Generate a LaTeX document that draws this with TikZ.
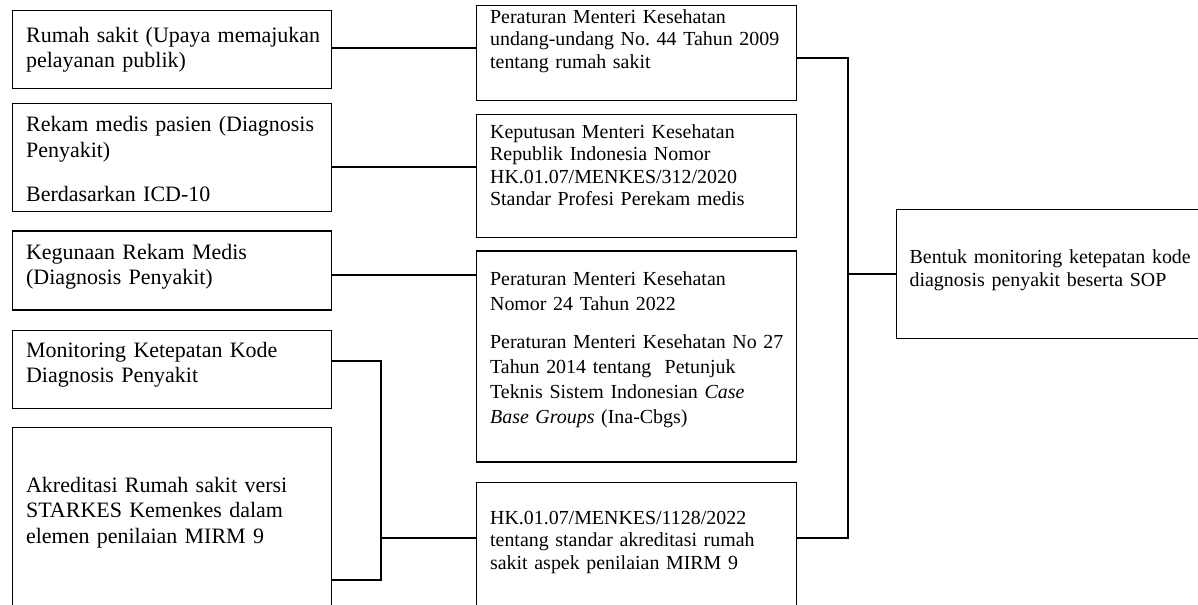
\documentclass[tikz,border=0pt]{standalone}
\usepackage{fontspec}
\setmainfont{Liberation Serif}
\usetikzlibrary{positioning}

\begin{document}
\frenchspacing
\hyphenpenalty=10000
\exhyphenpenalty=10000
\begin{tikzpicture}[lbox/.style={draw, line width=0.7pt, anchor=north west, align=left, inner xsep=0.27cm, inner ysep=0pt, text width=5.84cm, font=\fontsize{12.5}{14.4}\selectfont}, mbox/.style={lbox, text width=5.86cm, font=\fontsize{11.34}{12.8}\selectfont}, link/.style={line width=1.2pt}]

  \useasboundingbox (0,0) rectangle (23.96,-12.08);
  \clip (0,0) rectangle (23.96,-12.08);

  % left column
  \node[lbox, text height=0.64cm, text depth=0.93cm] (rs) at (0.24,-0.19) {Rumah~sakit~(Upaya~memajukan\\pelayanan publik)};
  \node[lbox, text height=0.56cm, text depth=1.60cm] (rm) [below = 0.28cm of rs] {Rekam medis pasien (Diagnosis\\Penyakit)\\[0.38cm]Berdasarkan ICD-10};
  \node[lbox, text height=0.57cm, text depth=1.01cm] (kg) [below = 0.36cm of rm] {Kegunaan Rekam Medis\\(Diagnosis Penyakit)};
  \node[lbox, text height=0.54cm, text depth=1.02cm] (mon) [below = 0.38cm of kg] {Monitoring Ketepatan Kode\\Diagnosis Penyakit};
  \node[lbox, text height=1.30cm, text depth=3.06cm] (akr) [below = 0.36cm of mon] {Akreditasi Rumah sakit versi\\STARKES Kemenkes dalam\\elemen penilaian MIRM 9};

  % middle column
  \node[mbox, text height=0.36cm, text depth=1.55cm] (uu) at (9.52,-0.09) {Peraturan Menteri Kesehatan\\undang-undang No. 44 Tahun 2009\\tentang rumah sakit};
  \node[mbox, text height=0.47cm, text depth=1.99cm] (kmk) [below = 0.26cm of uu] {Keputusan Menteri Kesehatan\\Republik Indonesia Nomor\\HK.01.07/MENKES/312/2020\\Standar Profesi Perekam medis};
  \node[mbox, text height=0.69cm, text depth=3.53cm, font=\fontsize{11.34}{14.2}\selectfont] (pmk) [below = 0.24cm of kmk] {Peraturan Menteri Kesehatan\\Nomor 24 Tahun 2022\\[0.27cm]Peraturan~Menteri~Kesehatan~No~27\\Tahun 2014 tentang\ \ Petunjuk\\Teknis Sistem Indonesian \textit{Case}\\\textit{Base Groups} (Ina-Cbgs)};
  \node[mbox, text height=0.83cm, text depth=2.40cm] (hk) [below = 0.39cm of pmk] {HK.01.07/MENKES/1128/2022\\tentang standar akreditasi rumah\\sakit aspek penilaian MIRM 9};

  % result
  \node[mbox, text width=6.0cm, text height=1.08cm, text depth=1.50cm] (sop) at (17.91,-4.18) {Bentuk monitoring ketepatan kode\\diagnosis penyakit beserta SOP};

  \coordinate (jl) at (7.62,0);
  \coordinate (jr) at (16.96,0);
  \coordinate (akrout) at ([yshift=-3.06cm]akr.north east);
  \coordinate (hkin) at ([yshift=-1.11cm]hk.north west);
  \coordinate (hkout) at (hkin -| hk.east);
  \coordinate (uuout) at ([yshift=-0.1cm]uu.east);

  \draw[link] ([yshift=0.03cm]rs.east) -- ([yshift=0.03cm]rs.east -| uu.west);
  \draw[link] ([yshift=-0.18cm]rm.east) -- ([yshift=-0.18cm]rm.east -| kmk.west);
  \draw[link] ([yshift=-0.09cm]kg.east) -- ([yshift=-0.09cm]kg.east -| pmk.west);
  \draw[link] ([yshift=0.16cm]mon.east) -| (akrout -| jl) -- (akrout);
  \draw[link] (hkin -| jl) -- (hkin);
  \draw[link] (uuout) -| (hkout -| jr) -- (hkout);
  \draw[link] (sop.west) -- (sop.west -| jr);
\end{tikzpicture}
\end{document}
